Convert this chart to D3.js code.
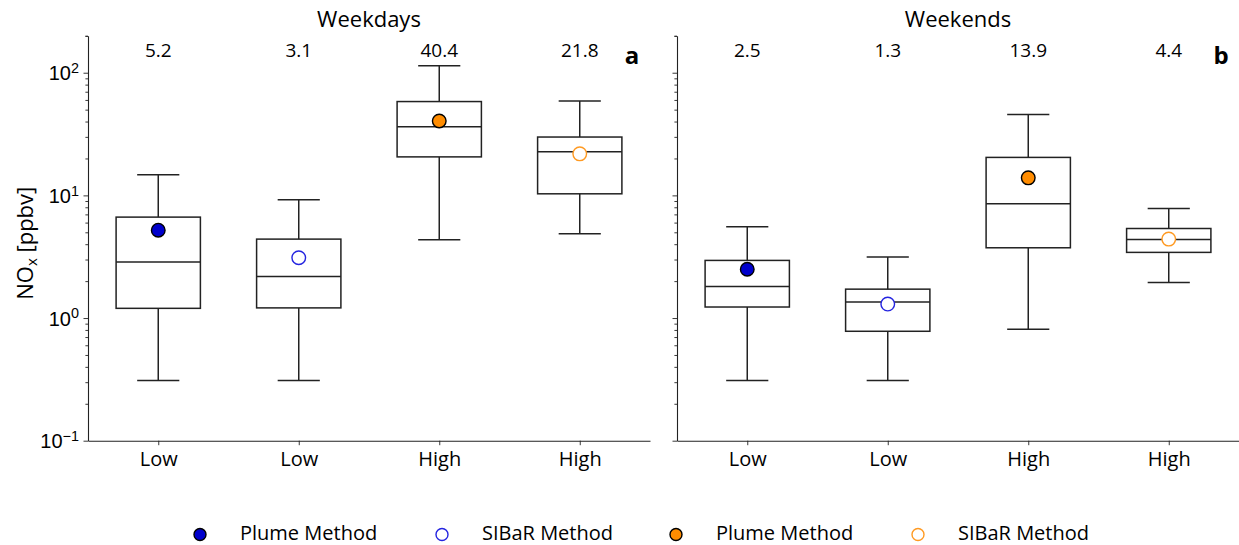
<!DOCTYPE html>
<html>
<head>
<meta charset="utf-8">
<script src="https://cdn.jsdelivr.net/npm/d3@7"></script>
<style>
  html, body { margin: 0; padding: 0; background: #fff; }
  svg { display: block; font-family: "Open Sans", "Noto Sans", sans-serif; }
</style>
</head>
<body>
<svg id="chart" width="1239" height="545"></svg>
<script>
// Box statistics of NOx (ppbv) per group, plus the per-method mean shown as a marker
const categories = ["Low", "Low", "High", "High"];
const panelTitles = ["Weekdays", "Weekends"];
const panelLetters = ["a", "b"];

const weekdayMin    = [0.31, 0.31, 4.35, 4.86];
const weekdayQ1     = [1.20, 1.21, 20.6, 10.3];
const weekdayMedian = [2.86, 2.18, 36.3, 22.7];
const weekdayQ3     = [6.65, 4.40, 58.2, 29.9];
const weekdayMax    = [14.7, 9.2, 114, 58.7];
const weekdayMethod = [5.2, 3.1, 40.4, 21.8];

const weekendMin    = [0.31, 0.31, 0.81, 1.95];
const weekendQ1     = [1.23, 0.78, 3.74, 3.43];
const weekendMedian = [1.81, 1.35, 8.54, 4.37];
const weekendQ3     = [2.95, 1.72, 20.4, 5.37];
const weekendMax    = [5.55, 3.14, 45.6, 7.82];
const weekendMethod = [2.5, 1.3, 13.9, 4.4];

const legendLabels = ["Plume Method", "SIBaR Method", "Plume Method", "SIBaR Method"];
const yTickValues = [0.1, 1, 10, 100];

// marker look for each group position
const markerStyle = [
  { fill: "#0000cc", stroke: "#000000" },
  { fill: "#ffffff", stroke: "#2424e0" },
  { fill: "#ff8c00", stroke: "#000000" },
  { fill: "#ffffff", stroke: "#ff9a22" }
];

const panels = [
  { title: panelTitles[0], letter: panelLetters[0], left: 88, right: 650,
    min: weekdayMin, q1: weekdayQ1, med: weekdayMedian, q3: weekdayQ3, max: weekdayMax, mean: weekdayMethod, labels: true },
  { title: panelTitles[1], letter: panelLetters[1], left: 677, right: 1239,
    min: weekendMin, q1: weekendQ1, med: weekendMedian, q3: weekendQ3, max: weekendMax, mean: weekendMethod, labels: false }
];

const svg = d3.select("#chart");
const plotTop = 35.8, plotBottom = 440.7;
const y = d3.scaleLog().domain([0.1, 200]).range([plotBottom, plotTop]);
const lineColor = "#222";
const fontSize = 20;

function powerLabel(sel) {
  sel.each(function (d) {
    const t = d3.select(this);
    t.text(null);
    const e = Math.round(Math.log10(d));
    t.append("tspan").text("10");
    t.append("tspan").attr("dy", "-0.5em").attr("font-size", "0.72em")
      .text(String(e).replace("-", "\u2212"));
  });
}

panels.forEach(p => {
  const g = svg.append("g");
  const x = d3.scaleLinear().domain([0.5, 4.5]).range([p.left, p.right]);
  const step = x(2) - x(1);
  const boxW = step * 0.6, capW = step * 0.3;

  // y axis with major and minor log ticks
  const minorTicks = y.ticks().concat([200]);
  const yAxis = d3.axisLeft(y).tickValues(minorTicks).tickSizeOuter(0).tickSize(0);
  const yg = g.append("g").attr("transform", `translate(${p.left},0)`).call(yAxis);
  yg.select(".domain").attr("stroke", lineColor).attr("stroke-width", 1.1);
  yg.selectAll(".tick text").remove();
  yg.selectAll(".tick line").attr("stroke", lineColor).attr("stroke-width", 0.9)
    .attr("x2", d => yTickValues.some(v => Math.abs(v - d) < 1e-9) ? -4.5 : -2.6);
  if (p.labels) {
    yg.selectAll(".ylab").data(yTickValues).enter().append("text")
      .attr("class", "ylab")
      .attr("x", -9).attr("y", d => y(d) + 7.5)
      .attr("text-anchor", "end")
      .attr("font-size", fontSize).attr("fill", "#000")
      .call(powerLabel);
  }

  // x axis
  const xAxis = d3.axisBottom(x).tickValues([1, 2, 3, 4]).tickSize(4.5).tickSizeOuter(0)
    .tickFormat((d, i) => categories[i]);
  const xg = g.append("g").attr("transform", `translate(0,${plotBottom})`).call(xAxis);
  xg.select(".domain").attr("stroke", lineColor).attr("stroke-width", 1.1);
  xg.selectAll(".tick line").attr("stroke", lineColor).attr("stroke-width", 0.9);
  xg.selectAll(".tick text").attr("font-size", fontSize).attr("fill", "#000")
    .attr("font-family", "Open Sans, Noto Sans, sans-serif").attr("dy", "0.9em");

  // boxes
  const idx = d3.range(categories.length);
  const bg = g.append("g").attr("fill", "none").attr("stroke", lineColor).attr("stroke-width", 1.5);
  idx.forEach(i => {
    const cx = x(i + 1);
    bg.append("line").attr("x1", cx).attr("x2", cx).attr("y1", y(p.q3[i])).attr("y2", y(p.max[i]));
    bg.append("line").attr("x1", cx).attr("x2", cx).attr("y1", y(p.q1[i])).attr("y2", y(p.min[i]));
    bg.append("line").attr("x1", cx - capW / 2).attr("x2", cx + capW / 2).attr("y1", y(p.max[i])).attr("y2", y(p.max[i]));
    bg.append("line").attr("x1", cx - capW / 2).attr("x2", cx + capW / 2).attr("y1", y(p.min[i])).attr("y2", y(p.min[i]));
    bg.append("rect").attr("x", cx - boxW / 2).attr("width", boxW)
      .attr("y", y(p.q3[i])).attr("height", y(p.q1[i]) - y(p.q3[i]));
    bg.append("line").attr("x1", cx - boxW / 2).attr("x2", cx + boxW / 2).attr("y1", y(p.med[i])).attr("y2", y(p.med[i]));
  });

  // method markers
  g.selectAll(".pt").data(idx).enter().append("circle")
    .attr("cx", i => x(i + 1)).attr("cy", i => y(p.mean[i])).attr("r", 6.8)
    .attr("fill", i => markerStyle[i].fill).attr("stroke", i => markerStyle[i].stroke)
    .attr("stroke-width", 1.4);

  // value annotations
  g.selectAll(".val").data(idx).enter().append("text")
    .attr("x", i => x(i + 1)).attr("y", 57)
    .attr("text-anchor", "middle").attr("font-size", 19).attr("fill", "#000")
    .text(i => p.mean[i].toFixed(1));

  // panel title and letter
  g.append("text").attr("x", (p.left + p.right) / 2).attr("y", 27)
    .attr("text-anchor", "middle").attr("font-size", 22).attr("fill", "#000").text(p.title);
  g.append("text").attr("x", p.right - 18).attr("y", 64)
    .attr("text-anchor", "middle").attr("font-size", 24).attr("font-weight", "bold")
    .attr("fill", "#000").text(p.letter);
});

// y axis title
const yt = svg.append("text").attr("transform", `translate(33,${(plotTop + plotBottom) / 2 + 5}) rotate(-90)`)
  .attr("text-anchor", "middle").attr("font-size", 22).attr("fill", "#000");
yt.append("tspan").text("NO");
yt.append("tspan").attr("font-size", 15).attr("dy", 4).text("x");
yt.append("tspan").attr("dy", -4).text(" [ppbv]");

// legend
const legendX = [200, 442, 676, 918];
const lg = svg.append("g");
legendLabels.forEach((lab, i) => {
  lg.append("circle").attr("cx", legendX[i]).attr("cy", 534.5).attr("r", 6)
    .attr("fill", markerStyle[i].fill).attr("stroke", markerStyle[i].stroke).attr("stroke-width", 1.4);
  lg.append("text").attr("x", legendX[i] + 40).attr("y", 539.5)
    .attr("font-size", 20).attr("fill", "#000").text(lab);
});
</script>
</body>
</html>
